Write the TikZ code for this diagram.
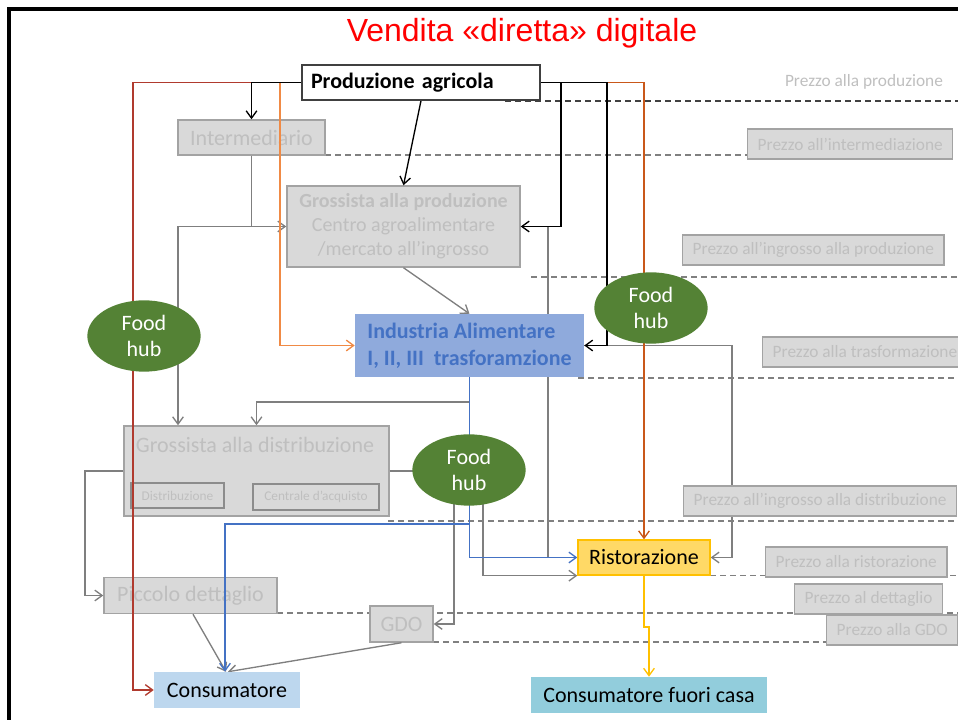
\documentclass[tikz,border=0pt]{standalone}
\usepackage{fontspec}
\setmainfont{Carlito}
\newfontfamily\titlefont{Liberation Sans}
\usetikzlibrary{arrows.meta,calc,shapes.geometric}
\definecolor{boxfill}{HTML}{D9D9D9}
\definecolor{gbord}{HTML}{A3A3A3}
\definecolor{ibord}{HTML}{8C8C8C}
\definecolor{gtext}{HTML}{BFBFBF}
\definecolor{lgray}{HTML}{7F7F7F}
\definecolor{dashc}{HTML}{808080}
\definecolor{dashdk}{HTML}{404040}
\definecolor{redc}{HTML}{B03A2E}
\definecolor{orng}{HTML}{F08A45}
\definecolor{orng2}{HTML}{C9581A}
\definecolor{blu}{HTML}{4472C4}
\definecolor{indfill}{HTML}{8FAADC}
\definecolor{yel}{HTML}{FFC000}
\definecolor{ristfill}{HTML}{FFD966}
\definecolor{consfill}{HTML}{BDD7EE}
\definecolor{consffill}{HTML}{92CDDC}
\definecolor{hubgreen}{HTML}{548235}
\definecolor{prodbord}{HTML}{404040}
\pgfdeclarelayer{bgl}
\pgfdeclarelayer{conl}
\pgfsetlayers{bgl,conl,main}
\tikzset{
  gbox/.style={draw=gbord, fill=boxfill, line width=1.1pt, text=gtext, inner sep=0pt,
    font=\fontsize{16.5}{20}\selectfont},
  ibox/.style={draw=ibord, fill=boxfill, line width=1pt, text=gtext, inner sep=0pt,
    font=\fontsize{10}{12}\selectfont},
  pbox/.style={draw=gbord, fill=boxfill, line width=1.1pt, text=gtext, anchor=west,
    inner xsep=7.5pt, inner ysep=0pt, minimum height=22.5pt,
    font=\fontsize{13}{15}\selectfont},
  cbox/.style={inner sep=0pt, text=black, font=\fontsize{16.5}{20}\selectfont},
  hub/.style={ellipse, fill=hubgreen, text=white, minimum width=85pt,
    minimum height=53.5pt, inner sep=0pt, align=center,
    font=\fontsize{16.5}{20}\selectfont},
  conn/.style={line width=1pt, -{Straight Barb[length=5.5pt,width=8pt]}},
  gline/.style={conn, draw=lgray},
  pline/.style={draw=dashc, line width=1.1pt, dash pattern=on 4.5pt off 3pt},
}
\begin{document}
\begin{tikzpicture}[x=0.75pt,y=-0.75pt]
\useasboundingbox (0,0) rectangle (958,720);

% ---------- background layer: frame, dashed guides, grey boxes ----------
\begin{pgfonlayer}{bgl}
\draw[line width=2.6pt] (9,730) -- (9,9) -- (970,9);

\coordinate (d1a) at (505,101);   \coordinate (d1b) at (958,101);
\coordinate (d2a) at (325,155);   \coordinate (d2b) at (747,155);
\coordinate (d3a) at (531,277);   \coordinate (d3b) at (958,277);
\coordinate (d4a) at (578,378);   \coordinate (d4b) at (958,378);
\coordinate (d5a) at (388,521);   \coordinate (d5b) at (955,521);
\coordinate (d6a) at (710,575.5); \coordinate (d6b) at (958,575.5);
\coordinate (d7a) at (277,613);   \coordinate (d7b) at (958,613);
\coordinate (d8a) at (433,642);   \coordinate (d8b) at (826,642);
\draw[pline, draw=dashdk, line width=1.5pt] (d1a) -- (d1b);
\draw[pline] (d2a) -- (d2b);
\draw[pline] (d3a) -- (d3b);
\draw[pline] (d4a) -- (d4b);
\draw[pline] (d5a) -- (d5b);
\draw[pline] (d6a) -- (d6b);
\draw[pline] (d7a) -- (d7b);
\draw[pline] (d8a) -- (d8b);

\node[gbox, minimum width=110.25pt, minimum height=26.25pt] (inter) at (251.5,137.5) {Intermediario};
\node[gbox, minimum width=174.75pt, minimum height=60.75pt, align=center,
  font=\fontsize{15}{18}\selectfont] (gprod) at (403.5,226.5)
  {{\bfseries Grossista alla produzione}\\Centro agroalimentare\\/mercato all’ingrosso};
\node[gbox, minimum width=198.75pt, minimum height=67.5pt] (gdist) at (256.5,471) {};
\node[cbox, text=gtext] (gdisttxt) at (255,445) {Grossista alla distribuzione};
\node[ibox, minimum width=69.75pt, minimum height=18.75pt] (distr) at (177.5,495.5) {Distribuzione};
\node[ibox, minimum width=94.5pt, minimum height=19.5pt] (centr) at (316,497) {Centrale d’acquisto};
\node[gbox, minimum width=129.75pt, minimum height=27pt] (picc) at (190.5,595.5) {Piccolo dettaglio};
\node[gbox, minimum width=47.25pt, minimum height=27pt] (gdo) at (401.5,624) {GDO};
\end{pgfonlayer}

% ---------- main nodes ----------
\node[text=red, font=\titlefont\fontsize{24}{28}\selectfont] (title) at (522,33) {Vendita «diretta» digitale};

\node[draw=prodbord, fill=white, line width=1pt, inner xsep=6.75pt, inner ysep=0pt,
  text width=165pt, align=left, minimum height=26.25pt,
  font=\fontsize{16.5}{20}\selectfont\bfseries] (prod) at (421,82.5) {Produzione agricola};

\node[fill=indfill, text=blu, inner xsep=6pt, inner ysep=0pt,
  align=left, minimum width=171.75pt, minimum height=47.25pt,
  font=\fontsize{16.5}{20}\selectfont\bfseries]
  (ind) at (469.5,345.5) {Industria Alimentare\\I, II, III\ \ trasforamzione};

\node[cbox, fill=ristfill, draw=yel, line width=1pt, minimum width=99pt, minimum height=26.25pt]
  (rist) at (644,557.5) {Ristorazione};
\node[cbox, fill=consfill, minimum width=109.5pt, minimum height=27pt] (cons) at (227,690) {Consumatore};
\node[cbox, fill=consffill, minimum width=177pt, minimum height=27pt] (consf) at (649,695) {Consumatore fuori casa};

\node[hub] (fh1) at (144,336) {Food\\hub};
\node[hub] (fh2) at (469,470) {Food\\hub};
\node[hub] (fh3) at (651,308) {Food\\hub};

% price labels
\node[text=gtext, font=\fontsize{13}{15}\selectfont] (p1) at (864,82) {Prezzo alla produzione};
\node[pbox] (p2) at (747,144) {Prezzo all’intermediazione};
\node[pbox] (p3) at (682,250) {Prezzo all’ingrosso alla produzione};
\node[pbox] (p4) at (762,352) {Prezzo alla trasformazione};
\node[pbox] (p5) at (683,501) {Prezzo all’ingrosso alla distribuzione};
\node[pbox] (p6) at (765,562) {Prezzo alla ristorazione};
\node[pbox] (p7) at (794,599) {Prezzo al dettaglio};
\node[pbox] (p8) at (826,630) {Prezzo alla GDO};

% ---------- connectors ----------
\begin{pgfonlayer}{conl}
\coordinate (r1) at (133,690);
\coordinate (o1) at (280,345.5);
\coordinate (b3) at (561,226.5);
\coordinate (b4) at (607,345.5);
\coordinate (g2) at (178,226.5);
\coordinate (g4) at (469.5,402);
\coordinate (g5) at (548,557.5);
\coordinate (g6) at (732,557.5);
\coordinate (g7) at (85,595.5);
\coordinate (bl1) at (469.5,524);
\coordinate (y1) at (649,627);

% grey
\draw[gline] (inter.south) |- (gprod.west);
\draw[gline] (inter.south) |- (g2) -- (g2 |- gdist.north);
\draw[gline] (gprod.south) -- (ind.north);
\draw[gline] (ind.south) -- (g4) -| (gdist.north);
\draw[gline, -] (gprod.east) -| (g5);
\draw[gline] (ind.east) -| (g6) -- (rist.east);
\draw[gline] (gdist.west) -| (g7) -- (picc.west);
\draw[gline, -] (gdist.east) -- (gdist.east -| fh2.center);
\draw[gline] ($(fh2.center)+(-15,0)$) |- (gdo.east);
\draw[gline] ($(fh2.center)+(14,0)$) |- (rist.south west);
\draw[gline] ($(picc.south)+(2.5,0)$) -- ($(cons.north)+(-1,0)$);
\draw[gline] (gdo.south) -- ($(cons.north)+(1,0)$);

% coloured
\draw[conn, draw=redc] (prod.west) -| (r1) -- (cons.west);
\draw[conn, draw=orng] (prod.west) -| (o1) -- (ind.west);
\draw[conn, draw=orng2] (prod.east) -| (rist.north);
\draw[conn, draw=black] (prod.west) -| (inter.north);
\draw[conn, draw=black] (prod.south) -- (gprod.north);
\draw[conn, draw=black] (prod.east) -| (b3) -- (gprod.east);
\draw[conn, draw=black] (prod.east) -| (b4) -- (ind.east);
\draw[conn, draw=blu] (ind.south) -- (bl1) -| ($(cons.north)+(-2,0)$);
\draw[conn, draw=blu] (ind.south) |- (rist.west);
\draw[conn, draw=yel] (rist.south) |- (y1) -- (consf.north);
\end{pgfonlayer}
\end{tikzpicture}
\end{document}
